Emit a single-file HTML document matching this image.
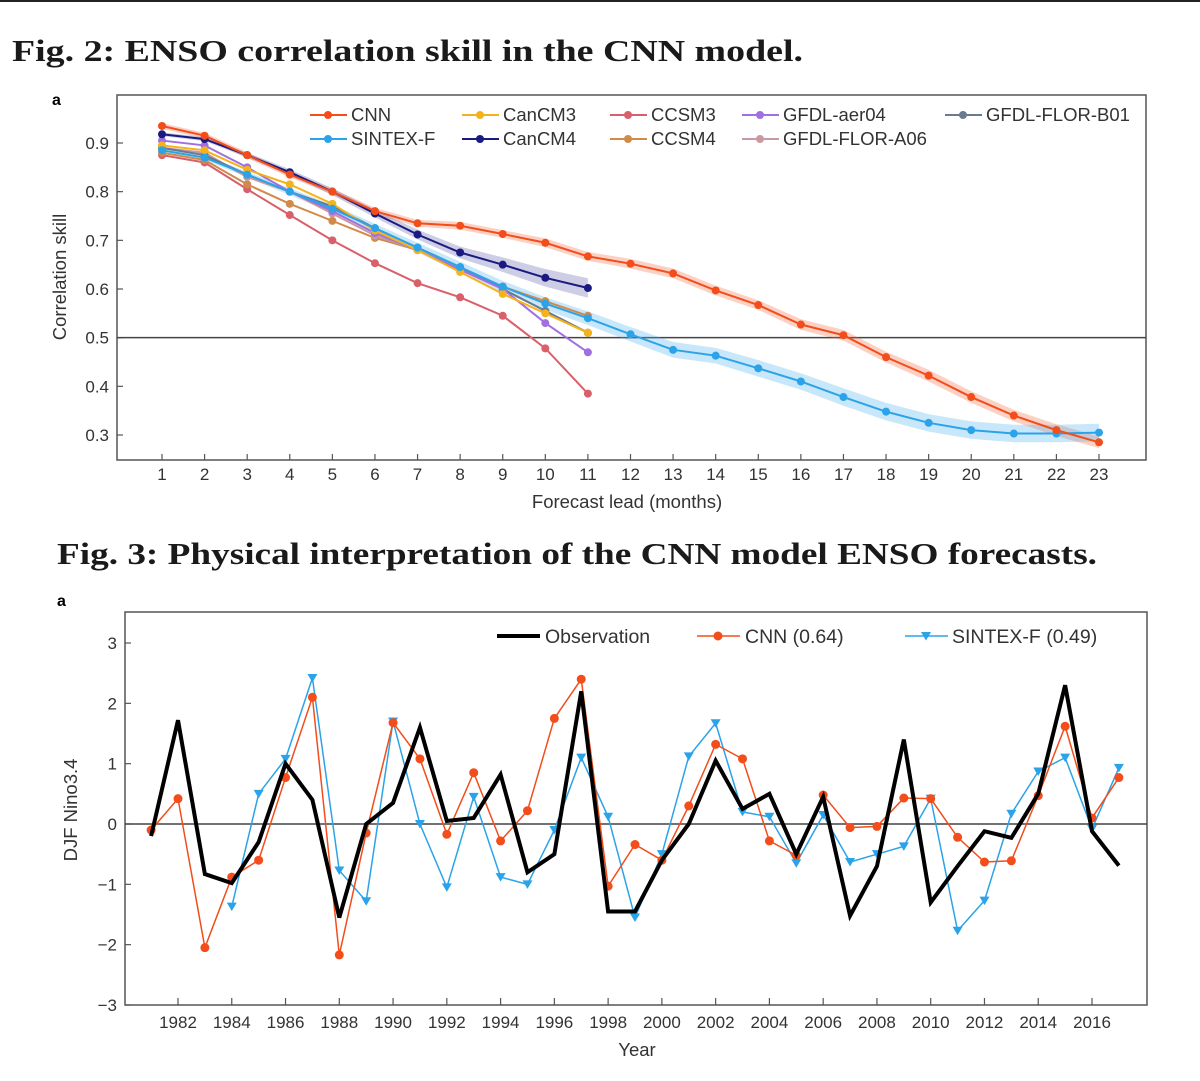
<!DOCTYPE html>
<html><head><meta charset="utf-8"><style>
html,body{margin:0;padding:0;background:#fff;}
svg{display:block;}
text{font-family:"Liberation Sans",sans-serif;}
.ttl{font-family:"Liberation Serif",serif;font-weight:bold;font-size:31px;fill:#1a1a1a;}
.tk{font-size:17px;fill:#333;}
.ax{font-size:18.5px;fill:#333;}
.lg{font-size:18.5px;fill:#333;}
</style></head><body>
<svg id="page" width="1200" height="1081" viewBox="0 0 1200 1081" xmlns="http://www.w3.org/2000/svg">
<rect x="0" y="0" width="1200" height="2" fill="#222"/>
<text class="ttl" x="12" y="61" textLength="791" lengthAdjust="spacingAndGlyphs">Fig. 2: ENSO correlation skill in the CNN model.</text>
<text class="ttl" x="57" y="564" textLength="1040" lengthAdjust="spacingAndGlyphs">Fig. 3: Physical interpretation of the CNN model ENSO forecasts.</text>
<text x="52" y="105" font-size="16" font-weight="bold">a</text>
<text x="57" y="606" font-size="16" font-weight="bold">a</text>
<g id="c1"></g>
<g id="c2"></g>
</svg>
<script>
const NS="http://www.w3.org/2000/svg";
// ---- Chart 1 data ----
const leads=[1,2,3,4,5,6,7,8,9,10,11,12,13,14,15,16,17,18,19,20,21,22,23];
const cnnSkill=[0.935,0.915,0.875,0.835,0.8,0.76,0.735,0.73,0.713,0.695,0.667,0.652,0.632,0.597,0.567,0.527,0.505,0.46,0.422,0.378,0.34,0.31,0.285];
const sintexSkill=[0.885,0.87,0.835,0.8,0.765,0.725,0.685,0.645,0.605,0.57,0.54,0.507,0.475,0.463,0.437,0.41,0.378,0.348,0.325,0.31,0.303,0.303,0.305];
const cancm3Skill=[0.895,0.885,0.845,0.815,0.775,0.72,0.68,0.635,0.59,0.55,0.51];
const cancm4Skill=[0.918,0.908,0.875,0.84,0.8,0.755,0.712,0.675,0.65,0.623,0.602];
const ccsm3Skill=[0.875,0.86,0.805,0.752,0.7,0.653,0.612,0.583,0.545,0.478,0.385];
const ccsm4Skill=[0.88,0.865,0.815,0.775,0.74,0.705,0.68,0.64,0.605,0.575,0.545];
const aer04Skill=[0.905,0.895,0.85,0.8,0.76,0.715,0.68,0.64,0.6,0.53,0.47];
const a06Skill=[0.89,0.88,0.83,0.8,0.755,0.71,0.68,0.64,0.6,0.555,0.51];
const b01Skill=[0.89,0.875,0.835,0.8,0.77,0.725,0.685,0.645,0.6,0.555,0.51];
const cnnBand=[0.006,0.006,0.006,0.006,0.006,0.007,0.007,0.008,0.008,0.009,0.009,0.01,0.01,0.01,0.01,0.011,0.011,0.011,0.012,0.012,0.012,0.012,0.012];
const sintexBand=[0.005,0.005,0.006,0.007,0.008,0.009,0.01,0.011,0.012,0.013,0.014,0.015,0.016,0.016,0.017,0.017,0.018,0.018,0.018,0.018,0.018,0.018,0.018];
const cancm4Band=[0.004,0.004,0.005,0.006,0.007,0.008,0.01,0.012,0.015,0.018,0.02];
const skillTicks=[0.3,0.4,0.5,0.6,0.7,0.8,0.9];
// ---- Chart 2 data ----
const years=[1981,1982,1983,1984,1985,1986,1987,1988,1989,1990,1991,1992,1993,1994,1995,1996,1997,1998,1999,2000,2001,2002,2003,2004,2005,2006,2007,2008,2009,2010,2011,2012,2013,2014,2015,2016,2017];
const obsNino=[-0.2,1.72,-0.83,-0.98,-0.3,1.0,0.4,-1.55,0.0,0.35,1.6,0.05,0.1,0.82,-0.8,-0.5,2.2,-1.45,-1.45,-0.6,0.0,1.05,0.25,0.5,-0.5,0.45,-1.52,-0.7,1.4,-1.3,-0.7,-0.12,-0.23,0.5,2.3,-0.12,-0.69];
const cnnNino=[-0.1,0.42,-2.05,-0.88,-0.6,0.77,2.1,-2.17,-0.15,1.68,1.08,-0.17,0.85,-0.28,0.22,1.75,2.4,-1.03,-0.34,-0.6,0.3,1.32,1.08,-0.28,-0.52,0.48,-0.06,-0.04,0.43,0.42,-0.22,-0.63,-0.61,0.47,1.62,0.1,0.77];
const sintexYears=[1984,1985,1986,1987,1988,1989,1990,1991,1992,1993,1994,1995,1996,1997,1998,1999,2000,2001,2002,2003,2004,2005,2006,2007,2008,2009,2010,2011,2012,2013,2014,2015,2016,2017];
const sintexNino=[-1.37,0.5,1.08,2.42,-0.77,-1.28,1.7,0.0,-1.05,0.45,-0.88,-1.0,-0.1,1.1,0.12,-1.55,-0.5,1.12,1.67,0.2,0.12,-0.65,0.15,-0.63,-0.5,-0.37,0.42,-1.77,-1.27,0.17,0.87,1.1,-0.08,0.93];
const ninoTicks=[-3,-2,-1,0,1,2,3];
const yearTicks=[1982,1984,1986,1988,1990,1992,1994,1996,1998,2000,2002,2004,2006,2008,2010,2012,2014,2016];

function mk(parent,tag,attrs,txt){const e=document.createElementNS(NS,tag);for(const k in attrs)e.setAttribute(k,attrs[k]);if(txt!==undefined)e.textContent=txt;parent.appendChild(e);return e;}

// Chart 1 axes
const L1=117,R1=1146,T1=95,B1=460;
const x1=v=>162+(v-1)*(1099-162)/22;
const y1=v=>143+(0.9-v)*(435-143)/0.6;
const g1=document.getElementById('c1');
let e=mk(g1,'rect',{x:L1,y:T1,width:R1-L1,height:B1-T1,fill:'none',stroke:'#555','stroke-width':1.5});


skillTicks.forEach(v=>{
  const ln=mk(g1,'line',{x1:L1,x2:L1+6,y1:y1(v),y2:y1(v),stroke:'#555','stroke-width':1.2});
  
  
  const t=mk(g1,'text',{x:L1-8,y:y1(v)+6,'text-anchor':'end',class:'tk'},v.toFixed(1));
  
  
});
leads.forEach(v=>{
  const ln=mk(g1,'line',{x1:x1(v),x2:x1(v),y1:B1,y2:B1-6,stroke:'#555','stroke-width':1.2});
  
  
  const t=mk(g1,'text',{x:x1(v),y:480,'text-anchor':'middle',class:'tk'},String(v));
  
  
});
e=mk(g1,'line',{x1:L1,x2:R1,y1:y1(0.5),y2:y1(0.5),stroke:'#444','stroke-width':1.5});


e=mk(g1,'text',{x:627,y:508,'text-anchor':'middle',class:'ax'},'Forecast lead (months)');


e=mk(g1,'text',{x:0,y:0,'text-anchor':'middle',class:'ax',transform:'translate(66,277) rotate(-90)'},'Correlation skill');



function band(g,vals,bw,color,name){
  let up=vals.map((v,i)=>x1(leads[i])+','+y1(v+bw[i]));
  let dn=vals.map((v,i)=>x1(leads[i])+','+y1(v-bw[i])).reverse();
  const p=mk(g,'polygon',{points:up.concat(dn).join(' '),fill:color,opacity:0.3});
  
  
}
function series1(g,vals,color,name,r){
  const pl=mk(g,'polyline',{points:vals.map((v,i)=>x1(leads[i])+','+y1(v)).join(' '),fill:'none',stroke:color,'stroke-width':2});
  
  
  vals.forEach((v,i)=>{
    const c=mk(g,'circle',{cx:x1(leads[i]),cy:y1(v),r:r||4,fill:color});
    
    
  });
}
band(g1,cnnSkill,cnnBand,'#f5683a','cnn-band');
band(g1,sintexSkill,sintexBand,'#4db0ef','sintex-band');
band(g1,cancm4Skill,cancm4Band,'#5a5aa8','cancm4-band');
const S1=[
 [ccsm3Skill,'#d9606a','CCSM3'],[ccsm4Skill,'#d08a4a','CCSM4'],[a06Skill,'#c89aa0','GFDL-FLOR-A06'],
 [b01Skill,'#6a7a90','GFDL-FLOR-B01'],[aer04Skill,'#a070e0','GFDL-aer04'],[cancm3Skill,'#f5b21b','CanCM3'],
 [sintexSkill,'#2ba3e8','SINTEX-F'],[cancm4Skill,'#1a1a80','CanCM4'],[cnnSkill,'#f24d1a','CNN']];
S1.forEach(s=>series1(g1,s[0],s[1],s[2].toLowerCase()));
// legend
const leg1=[['CNN','#f24d1a',310,115],['CanCM3','#f5b21b',462,115],['CCSM3','#d9606a',610,115],['GFDL-aer04','#a070e0',742,115],['GFDL-FLOR-B01','#6a7a90',945,115],
 ['SINTEX-F','#2ba3e8',310,139],['CanCM4','#1a1a80',462,139],['CCSM4','#d08a4a',610,139],['GFDL-FLOR-A06','#c89aa0',742,139]];
leg1.forEach(l=>{
  const g=mk(g1,'g',{});
  
  
  mk(g,'line',{x1:l[2],x2:l[2]+37,y1:l[3],y2:l[3],stroke:l[1],'stroke-width':2});
  mk(g,'circle',{cx:l[2]+18,cy:l[3],r:4,fill:l[1]});
  mk(g,'text',{x:l[2]+41,y:l[3]+6,class:'lg'},l[0]);
});

// Chart 2
const L2=125,R2=1147,T2=612,B2=1005;
const x2=v=>178+(v-1982)*(1092-178)/34;
const y2=v=>824-v*60.33;
const g2=document.getElementById('c2');
e=mk(g2,'rect',{x:L2,y:T2,width:R2-L2,height:B2-T2,fill:'none',stroke:'#555','stroke-width':1.5});


ninoTicks.forEach(v=>{
  const ln=mk(g2,'line',{x1:L2,x2:L2+6,y1:y2(v),y2:y2(v),stroke:'#555','stroke-width':1.2});
  
  
  const t=mk(g2,'text',{x:L2-8,y:y2(v)+6,'text-anchor':'end',class:'tk'},v<0?'\u2212'+Math.abs(v):String(v));
  
  
});
yearTicks.forEach(v=>{
  const ln=mk(g2,'line',{x1:x2(v),x2:x2(v),y1:B2,y2:B2-7,stroke:'#555','stroke-width':1.2});
  
  
  const t=mk(g2,'text',{x:x2(v),y:1028,'text-anchor':'middle',class:'tk'},String(v));
  
  
});
e=mk(g2,'line',{x1:L2,x2:R2,y1:y2(0),y2:y2(0),stroke:'#444','stroke-width':1.5});


e=mk(g2,'text',{x:637,y:1056,'text-anchor':'middle',class:'ax'},'Year');


e=mk(g2,'text',{x:0,y:0,'text-anchor':'middle',class:'ax',transform:'translate(77,810) rotate(-90)'},'DJF Nino3.4');



function tri(cx,cy,s){return (cx-s)+','+(cy-s*0.8)+' '+(cx+s)+','+(cy-s*0.8)+' '+cx+','+(cy+s*0.9);}
// SINTEX
e=mk(g2,'polyline',{points:sintexNino.map((v,i)=>x2(sintexYears[i])+','+y2(v)).join(' '),fill:'none',stroke:'#2ba3e8','stroke-width':1.5});


sintexNino.forEach((v,i)=>{
  const p=mk(g2,'polygon',{points:tri(x2(sintexYears[i]),y2(v),5),fill:'#2ba3e8'});
  
  
});
// CNN
e=mk(g2,'polyline',{points:cnnNino.map((v,i)=>x2(years[i])+','+y2(v)).join(' '),fill:'none',stroke:'#f24d1a','stroke-width':1.5});


cnnNino.forEach((v,i)=>{
  const c=mk(g2,'circle',{cx:x2(years[i]),cy:y2(v),r:4.5,fill:'#f24d1a'});
  
  
});
// Observation
e=mk(g2,'polyline',{points:obsNino.map((v,i)=>x2(years[i])+','+y2(v)).join(' '),fill:'none',stroke:'#000','stroke-width':4,'stroke-linejoin':'miter'});


// legend 2
let lg=mk(g2,'g',{});


mk(lg,'line',{x1:497,x2:540,y1:636,y2:636,stroke:'#000','stroke-width':4});
mk(lg,'text',{x:545,y:643,class:'lg',style:'font-size:19.5px'},'Observation');
lg=mk(g2,'g',{});


mk(lg,'line',{x1:697,x2:740,y1:636,y2:636,stroke:'#f24d1a','stroke-width':1.5});
mk(lg,'circle',{cx:718,cy:636,r:4.5,fill:'#f24d1a'});
mk(lg,'text',{x:745,y:643,class:'lg',style:'font-size:19.5px'},'CNN (0.64)');
lg=mk(g2,'g',{});


mk(lg,'line',{x1:905,x2:948,y1:636,y2:636,stroke:'#2ba3e8','stroke-width':1.5});
mk(lg,'polygon',{points:tri(926,636,5),fill:'#2ba3e8'});
mk(lg,'text',{x:952,y:643,class:'lg',style:'font-size:19.5px'},'SINTEX-F (0.49)');
</script>
</body></html>
